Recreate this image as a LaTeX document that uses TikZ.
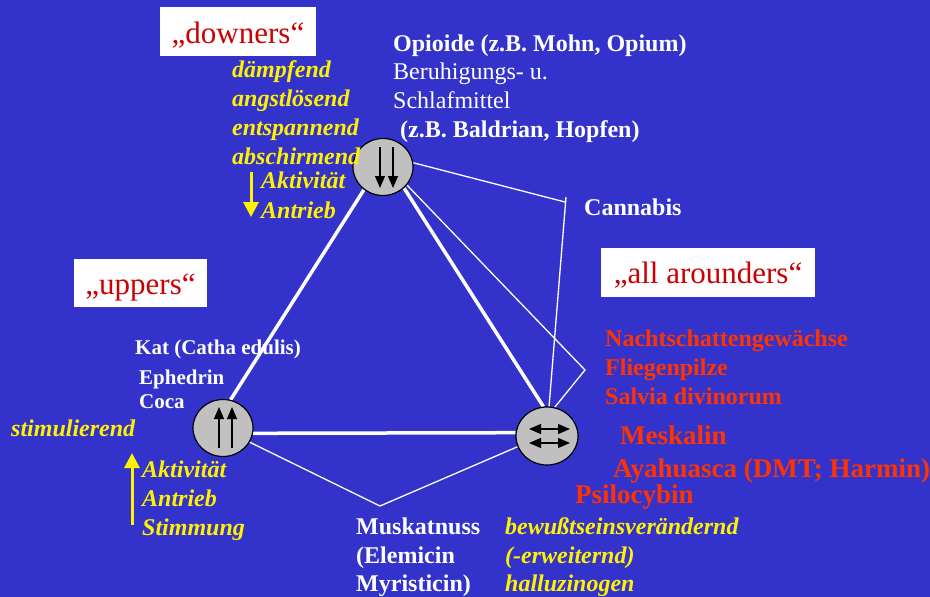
\documentclass[tikz,border=0pt]{standalone}
\usepackage{fontspec}
\setmainfont{Liberation Serif}
\usetikzlibrary{arrows.meta,calc,shapes.geometric}
\definecolor{bgblue}{RGB}{51,51,204}
\definecolor{boxred}{RGB}{204,0,0}
\definecolor{drugred}{RGB}{255,51,0}
\definecolor{diskgray}{RGB}{192,192,192}
\pgfdeclarelayer{bg}
\pgfdeclarelayer{lines}
\pgfsetlayers{bg,lines,main}
\begin{document}
\begin{tikzpicture}[x=1pt,y=-1pt,
  wb/.style={anchor=base west,inner sep=0pt,text=white,font=\fontsize{24}{29}\selectfont\bfseries},
  wbs/.style={anchor=base west,inner sep=0pt,text=white,font=\fontsize{21}{25}\selectfont\bfseries},
  wr/.style={anchor=base west,inner sep=0pt,text=white,font=\fontsize{24}{29}\selectfont},
  yl/.style={anchor=base west,inner sep=0pt,text=yellow,font=\fontsize{24}{29}\selectfont\bfseries\itshape},
  rd/.style={anchor=base west,inner sep=0pt,text=drugred,font=\fontsize{24}{29}\selectfont\bfseries},
  rdbig/.style={anchor=base west,inner sep=0pt,text=drugred,font=\fontsize{27}{32}\selectfont\bfseries},
  lblbox/.style={fill=white,text=boxred,inner sep=0pt,font=\fontsize{31}{36}\selectfont},
  disk/.style={ellipse,draw=black,line width=1.2pt,fill=diskgray,inner sep=0pt,minimum width=60pt,minimum height=57pt},
  thickln/.style={draw=white,line width=3.5pt},
  thinln/.style={draw=white,line width=1.3pt},
  inarr/.style={draw=black,line width=1.2pt,-{Triangle[width=10pt,length=12pt]}},
  inarr2/.style={draw=black,line width=1.2pt,{Triangle[width=10pt,length=12pt]}-{Triangle[width=10pt,length=12pt]}},
  yarr/.style={draw=yellow,line width=3pt,-{Triangle[width=15pt,length=15pt]}}
]
\useasboundingbox (0,0) rectangle (930,597);
\begin{pgfonlayer}{bg}
\fill[bgblue] (0,0) rectangle (930,597);
\end{pgfonlayer}

% disks
\node[disk] (top) at (383,167) {};
\node[disk] (left) at (223,428) {};
\node[disk,minimum width=62pt,minimum height=58pt] (right) at (547,436) {};

% arrows inside disks
\draw[inarr] ($(top)+(-3,-20)$) -- ($(top)+(-3,21)$);
\draw[inarr] ($(top)+(10,-20)$) -- ($(top)+(10,21)$);
\draw[inarr] ($(left)+(-4,20)$) -- ($(left)+(-4,-21)$);
\draw[inarr] ($(left)+(9,20)$) -- ($(left)+(9,-21)$);
\draw[inarr2] ($(right)+(-18,-7)$) -- ($(right)+(23,-7)$);
\draw[inarr2] ($(right)+(-18,7)$) -- ($(right)+(23,7)$);

% connector corners
\coordinate (vbot) at (380,506);
\coordinate (cbk) at (565,202);
\coordinate (cbktop) at (566,197);
\coordinate (rbk) at (585,370);

\begin{pgfonlayer}{lines}
\draw[thickln] (top.230) -- (left.75);
\draw[thickln] (top.-45) -- (right.97);
\draw[thickln] (left.-10) -- (right.174);
\draw[thinln] (left.-28) -- (vbot) -- (right.200);
\draw[thinln] (top.8) -- (cbk);
\draw[thinln] (cbktop) -- (right.86);
\draw[thinln] (top.-37) -- (rbk) -- (right.75);
\end{pgfonlayer}

% label boxes
\node[lblbox,minimum width=156pt,text height=36pt,text depth=13pt] (downers) at (238,31.5) {„downers“};
\node[lblbox,minimum width=133pt,text height=35pt,text depth=13pt] (uppers) at (140.5,283) {„uppers“};
\node[lblbox,minimum width=214pt,text height=35pt,text depth=14pt] (allaround) at (708,272.5) {„all arounders“};

% top texts
\node[yl] (t1) at (232,77) {dämpfend};
\node[yl] (t2) at (232,106) {angstlösend};
\node[yl] (t3) at (232,135) {entspannend};
\node[yl] (t4) at (232,164) {abschirmend};
\node[yl] (t5) at (261,188) {Aktivität};
\node[yl] (t6) at (261,218) {Antrieb};
\coordinate (ya1) at (251,172);
\coordinate (ya2) at (251,217);
\draw[yarr] (ya1) -- (ya2);

\node[wb] (o1) at (393,51) {Opioide (z.B. Mohn, Opium)};
\node[wr] (o2) at (393,79) {Beruhigungs- u.};
\node[wr] (o3) at (393,108) {Schlafmittel};
\node[wb] (o4) at (400,137) {(z.B. Baldrian, Hopfen)};
\node[wb] (can) at (584,215) {Cannabis};

% left texts
\node[wbs] (k1) at (135,354) {Kat (Catha edulis)};
\node[wbs] (k2) at (139,384) {Ephedrin};
\node[wbs] (k3) at (139,408) {Coca};
\node[yl] (s0) at (11,436) {stimulierend};
\node[yl] (s1) at (142,477) {Aktivität};
\node[yl] (s2) at (142,506) {Antrieb};
\node[yl] (s3) at (142,535) {Stimmung};
\coordinate (yb1) at (132,525);
\coordinate (yb2) at (132,453);
\draw[yarr] (yb1) -- (yb2);

% bottom texts
\node[wb] (m1) at (356,534) {Muskatnuss};
\node[wb] (m2) at (356,563) {(Elemicin};
\node[wb] (m3) at (356,591) {Myristicin)};
\node[yl] (b1) at (505,534) {bewußtseinsverändernd};
\node[yl] (b2) at (505,563) {(-erweiternd)};
\node[yl] (b3) at (505,591) {halluzinogen};

% right texts
\node[rd] (r1) at (605,346) {Nachtschattengewächse};
\node[rd] (r2) at (605,375) {Fliegenpilze};
\node[rd] (r3) at (605,404) {Salvia divinorum};
\node[rdbig] (r4) at (620,444) {Meskalin};
\node[rdbig] (r5) at (613,477) {Ayahuasca (DMT; Harmin)};
\node[rdbig] (r6) at (575,503) {Psilocybin};
\end{tikzpicture}
\end{document}
